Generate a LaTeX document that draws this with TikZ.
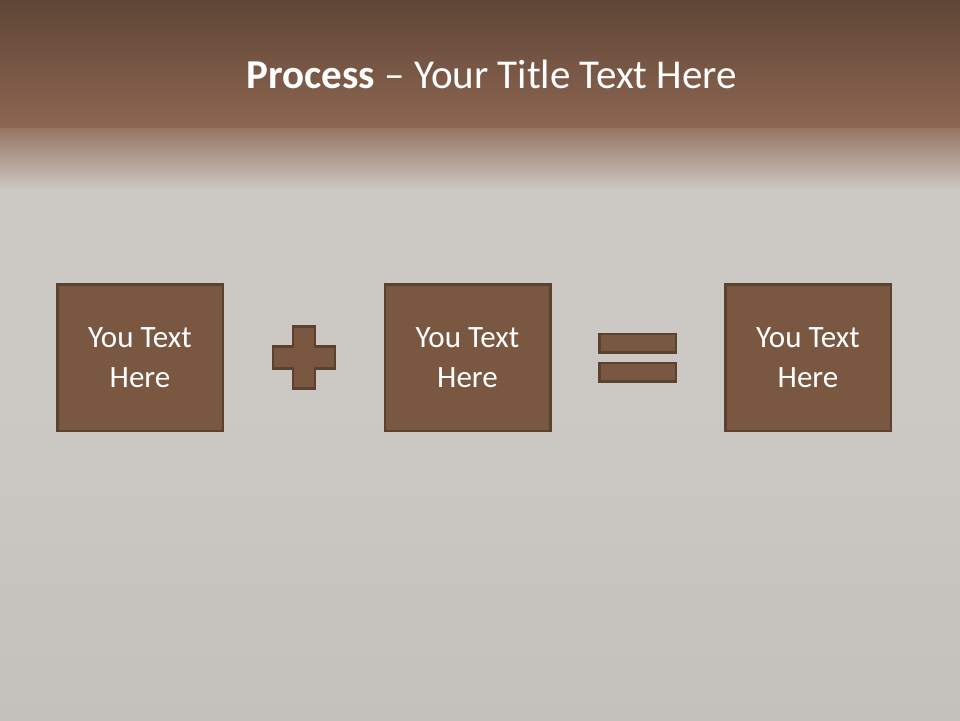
\documentclass[tikz,border=0pt]{standalone}
\usepackage{fontspec}
\setmainfont{Carlito}
\usepackage{tikz}
\usetikzlibrary{positioning,shapes.geometric,calc}
\definecolor{bark}{HTML}{7A5741}
\definecolor{barkedge}{HTML}{5B4130}
\definecolor{bandtop}{HTML}{5F4636}
\definecolor{bandlow}{HTML}{8D6651}
\definecolor{steel}{HTML}{CCC8C4}
\definecolor{steeldeep}{HTML}{C4C0BC}
\tikzset{
  stepbox/.style={rectangle, draw=barkedge, fill=bark, line width=2.5pt, minimum width=165.5pt,
                  minimum height=146.5pt, align=center, text=white, font=\fontsize{31}{40}\selectfont},
  bar/.style={rectangle, draw=barkedge, fill=bark, line width=2.5pt, minimum width=76.5pt,
              minimum height=18.5pt, inner sep=0pt},
  sign/.style={draw=barkedge, fill=bark, line width=2.5pt, line join=miter},
  ttl/.style={text=white, font=\fontsize{41}{48}\selectfont, anchor=base}
}
\begin{document}
\begin{tikzpicture}[x=1pt, y=-1pt]
  % backdrop
  \useasboundingbox (0,0) rectangle (960,720);
  \fill[steel] (0,0) rectangle (960,720);
  \shade[top color=steel, bottom color=steeldeep] (0,400) rectangle (960,720);
  \shade[top color=bandtop, bottom color=bandlow] (0,0) rectangle (960,128);
  \shade[top color=bandlow!85!steel, bottom color=steel] (0,128) rectangle (960,190);
  % title
  \node[ttl] (title) at (492,88) {\textbf{Process} -- Your Title Text Here};
  % the three terms
  \node[stepbox] (lhs) at (140,357.5) {You Text\\Here};
  \node[stepbox, right=159.5pt of lhs] (mid) {You Text\\Here};
  \node[stepbox, right=172.5pt of mid] (res) {You Text\\Here};
  % plus sign
  \coordinate (plus) at ($(lhs.east)!0.5!(mid.west)$);
  \draw[sign] ($(plus)+(-11,-31)$) -- ++(22,0) -- ++(0,20) -- ++(20,0) -- ++(0,22)
    -- ++(-20,0) -- ++(0,20) -- ++(-22,0) -- ++(0,-20) -- ++(-20,0) -- ++(0,-22)
    -- ++(20,0) -- cycle;
  % equals sign
  \coordinate (equals) at ($(mid.east)!0.5!(res.west)$);
  \node[bar, above=4pt of equals] (eqtop) {};
  \node[bar, below=4pt of equals] (eqlow) {};
\end{tikzpicture}
\end{document}
